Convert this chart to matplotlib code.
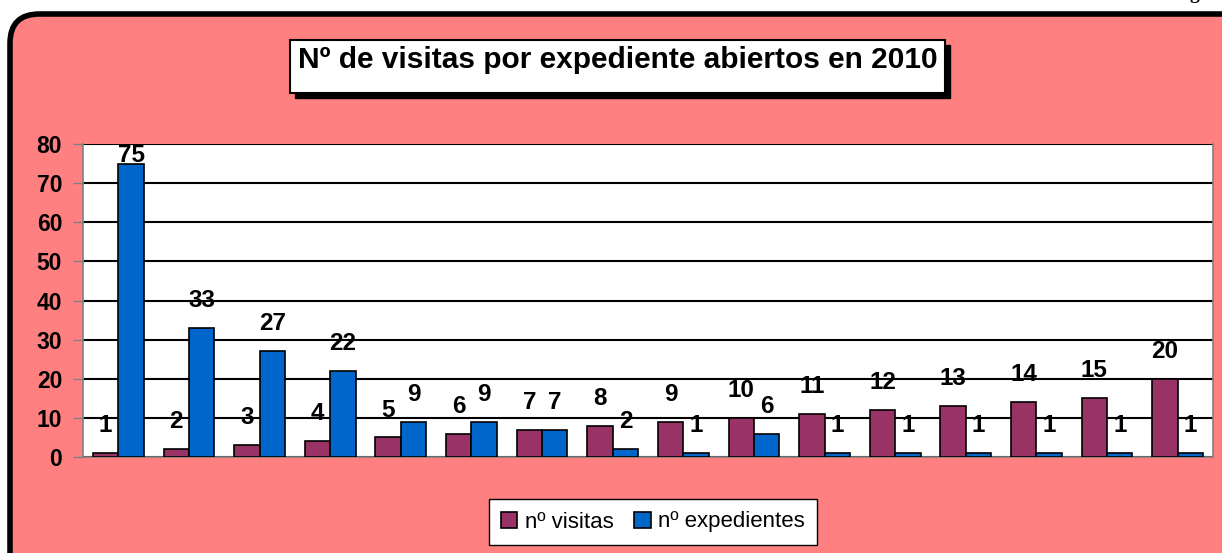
import matplotlib
matplotlib.use('Agg')
import matplotlib.pyplot as plt
from matplotlib.patches import FancyBboxPatch, Rectangle
import numpy as np

plt.rcParams['font.family'] = ['Liberation Sans', 'DejaVu Sans']

# datos
visitas = [1, 2, 3, 4, 5, 6, 7, 8, 9, 10, 11, 12, 13, 14, 15, 20]
expedientes = [75, 33, 27, 22, 9, 9, 7, 2, 1, 6, 1, 1, 1, 1, 1, 1]
titulo = 'Nº de visitas por expediente abiertos en 2010'
series = ['nº visitas', 'nº expedientes']
colores = ['#993366', '#0066CC']

fig = plt.figure(figsize=(12.22, 5.53), dpi=100)
fig.patch.set_facecolor('white')

# marco redondeado rosa
marco = FancyBboxPatch((10/1222, -0.05), 1.05, 1 - 14/553 + 0.05,
                       boxstyle='round,pad=0,rounding_size=0.024',
                       transform=fig.transFigure, facecolor='#FF8080',
                       edgecolor='black', linewidth=4, mutation_aspect=2.2, zorder=-10)
fig.patches.append(marco)
# trozo de texto de la pagina cortado arriba
fig.text(1190/1222, 1 + 1/553, 'g', va='baseline', fontsize=14,
         family='Liberation Serif', fontweight='bold')

# caja del titulo con sombra
tx0, ty0, tw, th = 290/1222, 1 - 93/553, 655/1222, 53/553
fig.patches.append(Rectangle((tx0 + 5/1222, ty0 - 5/553), tw, th, zorder=-5,
                             transform=fig.transFigure, facecolor='black', edgecolor='black'))
fig.patches.append(Rectangle((tx0, ty0), tw, th, transform=fig.transFigure, zorder=-4,
                             facecolor='white', edgecolor='black', linewidth=1.5))
fig.text(tx0 + tw/2, 1 - 60/553, titulo, ha='center', va='center',
         fontsize=21.5, fontweight='bold')

ax = fig.add_axes([83/1222, 1 - 457/553, 1130/1222, 313/553])
ax.set_facecolor('white')

x = np.arange(len(visitas))
w = 0.36
ax.bar(x - w/2, visitas, w, color=colores[0], edgecolor='black', linewidth=1.2,
       label=series[0], zorder=3)
ax.bar(x + w/2, expedientes, w, color=colores[1], edgecolor='black', linewidth=1.2,
       label=series[1], zorder=3)

for xs, vals in [(x - w/2, visitas), (x + w/2, expedientes)]:
    for xi, v in zip(xs, vals):
        ax.text(xi, min(v + 7, 77), str(v), ha='center', va='center',
                fontsize=17.5, fontweight='bold', zorder=5, clip_on=False)

ax.set_xlim(-0.5, len(visitas) - 0.5)
ax.set_ylim(0, 80)
ax.set_yticks(range(0, 81, 10))
ax.set_xticks([])
ax.yaxis.grid(True, color='black', linewidth=1.5, zorder=1)
ax.set_axisbelow(True)
for s in ['left', 'right', 'bottom']:
    ax.spines[s].set_color('#808080')
    ax.spines[s].set_linewidth(1.2)
ax.spines['top'].set_visible(False)
ax.tick_params(axis='y', length=7, width=1, color='#808080', labelsize=16.5, pad=8)
for lb in ax.get_yticklabels():
    lb.set_fontweight('bold')

leg = fig.legend(loc='center', bbox_to_anchor=(653/1222, 1 - 522/553), ncol=2,
                 frameon=True, fancybox=False, fontsize=16, handlelength=0.75,
                 handleheight=0.75, handletextpad=0.35, columnspacing=0.9,
                 borderpad=0.55, framealpha=1)
leg.get_frame().set_facecolor('white')
leg.get_frame().set_edgecolor('black')
leg.get_frame().set_linewidth(1)

fig.savefig('out.png', dpi=100)
